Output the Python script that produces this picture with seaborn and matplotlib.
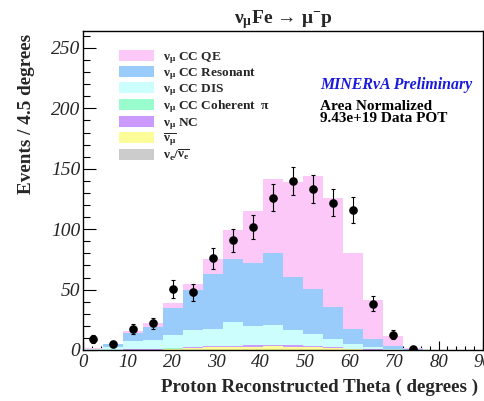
import numpy as np
import pandas as pd
import matplotlib
matplotlib.use("Agg")
import matplotlib.pyplot as plt
import seaborn as sns
from matplotlib.ticker import MultipleLocator

# Binning: 20 bins of 4.5 degrees between 0 and 90
bin_width = 4.5
bin_edges = [round(i * bin_width, 2) for i in range(21)]
bin_centers = [e + bin_width / 2 for e in bin_edges[:-1]]

# Simulated components (area normalized), one value per bin
qe = [0.3, 0.3, 1.4, 3.6, 4.0, 5.2, 12.0, 24.3, 43.0, 61.5,
      78.9, 93.3, 89.8, 62.6, 32.0, 8.6, 1.2, 0.3, 0.2, 0.1]
resonant = [0.6, 2.5, 6.6, 10.5, 22.3, 32.8, 45.5, 52.0, 52.0, 59.3,
            44.1, 37.2, 26.3, 12.4, 6.3, 2.0, 0.4, 0.1, 0.0, 0.0]
dis = [0.4, 1.8, 6.8, 7.6, 11.3, 14.1, 14.3, 19.3, 16.1, 16.3,
       12.4, 10.3, 7.0, 4.0, 2.2, 0.8, 0.2, 0.0, 0.0, 0.0]
coherent = [0.1, 0.2, 0.3, 0.2, 0.2, 0.2, 0.1, 0.1, 0.1, 0.1,
            0.1, 0.0, 0.0, 0.0, 0.0, 0.0, 0.0, 0.0, 0.0, 0.0]
nc = [0.1, 0.2, 0.3, 0.3, 0.5, 0.6, 0.8, 1.0, 1.0, 1.3,
      1.0, 0.8, 0.5, 0.3, 0.2, 0.1, 0.0, 0.0, 0.0, 0.0]
numubar = [0.0, 0.0, 0.2, 0.3, 0.5, 1.5, 2.0, 2.3, 2.5, 2.7,
           2.5, 2.2, 1.8, 0.6, 0.2, 0.1, 0.0, 0.0, 0.0, 0.0]
nue = [0.0, 0.0, 0.1, 0.1, 0.2, 0.2, 0.3, 0.3, 0.3, 0.3,
       0.3, 0.2, 0.2, 0.1, 0.1, 0.0, 0.0, 0.0, 0.0, 0.0]

# Data points with statistical errors (first 17 bins)
data_events = [9.1, 5.0, 17.6, 22.0, 50.5, 47.7, 75.9, 91.0, 102.0, 126.0,
               140.0, 133.0, 122.0, 116.0, 38.3, 12.7, 0.6]
data_errors = [3.0, 2.2, 4.2, 4.7, 7.1, 6.9, 8.7, 9.5, 10.1, 11.2,
               11.8, 11.5, 11.0, 10.8, 6.2, 3.6, 0.7]

component_labels = [
    r"$\nu_{\mu}$ CC QE",
    r"$\nu_{\mu}$ CC Resonant",
    r"$\nu_{\mu}$ CC DIS",
    r"$\nu_{\mu}$ CC Coherent  $\pi$",
    r"$\nu_{\mu}$ NC",
    r"$\overline{\nu_{\mu}}$",
    r"$\nu_{e}/\overline{\nu_{e}}$",
]
component_values = [qe, resonant, dis, coherent, nc, numubar, nue]
component_colors = ["#fbc8f8", "#99cbfb", "#ccfefe", "#99fccc",
                    "#cc99fc", "#fcfc99", "#cccccc"]

x_ticks = [0, 10, 20, 30, 40, 50, 60, 70, 80, 90]
y_ticks = [0, 50, 100, 150, 200, 250]

sns.set_theme(style="ticks")
plt.rcParams["font.family"] = ["Liberation Serif", "DejaVu Serif"]
plt.rcParams["mathtext.fontset"] = "custom"
plt.rcParams["mathtext.rm"] = "Liberation Serif"
plt.rcParams["mathtext.it"] = "Liberation Serif:italic"
plt.rcParams["mathtext.bf"] = "Liberation Serif:bold"
plt.rcParams["mathtext.default"] = "regular"

frames = []
for label, values in zip(component_labels, component_values):
    frames.append(pd.DataFrame({"theta": bin_centers,
                                "events": values,
                                "component": label}))
mc = pd.concat(frames, ignore_index=True)

fig = plt.figure(figsize=(4.84, 4.01), dpi=100)
ax = fig.add_axes([83 / 484, 51 / 401, 400 / 484, 319 / 401])

sns.histplot(data=mc, x="theta", weights="events", hue="component",
             hue_order=component_labels,
             palette=dict(zip(component_labels, component_colors)),
             bins=bin_edges, multiple="stack", element="bars",
             linewidth=0, edgecolor="none", alpha=1.0, shrink=1.0,
             ax=ax)

ax.errorbar(bin_centers[:len(data_events)], data_events, yerr=data_errors,
            fmt="o", color="black", ms=5.2, elinewidth=0.8,
            capsize=1.3, capthick=0.8, zorder=5)

ax.set_xlim(0, 90)
ax.set_ylim(0, 264)
ax.set_xticks(x_ticks)
ax.set_xticklabels([str(t) for t in x_ticks], fontstyle="italic", fontsize=13.5)
ax.set_yticks(y_ticks)
ax.set_yticklabels([str(t) for t in y_ticks], fontstyle="italic", fontsize=14)
ax.xaxis.set_minor_locator(MultipleLocator(2))
ax.yaxis.set_minor_locator(MultipleLocator(10))
ax.tick_params(axis="x", which="major", direction="in", length=6.5,
               width=0.8, pad=3, color="black")
ax.tick_params(axis="x", which="minor", direction="in", length=3,
               width=0.8, color="black")
ax.tick_params(axis="y", which="major", direction="in", length=9,
               width=0.8, pad=2, color="black")
ax.tick_params(axis="y", which="minor", direction="in", length=5,
               width=0.8, color="black")
for side in ["left", "bottom", "top", "right"]:
    ax.spines[side].set_visible(True)
    ax.spines[side].set_color("black")
    ax.spines[side].set_linewidth(1.0)

ax.set_xlabel("")
ax.set_ylabel("")
fig.text(478 / 484, 1 - 392 / 401, "Proton Reconstructed Theta ( degrees )",
         ha="right", va="baseline", fontsize=13.7, fontweight="bold")
fig.text(27 / 484, 1 - 34 / 401, "Events / 4.5 degrees", rotation=90,
         ha="center", va="top", fontsize=13.8, fontweight="bold")
fig.text(283 / 484, 1 - 20 / 401, r"$\nu_{\mu}$Fe$\,\rightarrow\,\mu^{-}$p",
         ha="center", va="center", fontsize=14, fontweight="bold")

ax.text((320 - 83) / 400, (350 - 85) / 319,
        "MINERνA Preliminary", transform=ax.transAxes, ha="left",
        va="center", fontsize=11.4, fontweight="bold", fontstyle="italic",
        color="#1a1adc")
ax.text((320 - 83) / 400, (350 - 106) / 319, "Area Normalized",
        transform=ax.transAxes, ha="left", va="center", fontsize=11,
        fontweight="bold", color="black")
ax.text((320 - 83) / 400, (350 - 119) / 319, "9.43e+19 Data POT",
        transform=ax.transAxes, ha="left", va="center", fontsize=11,
        fontweight="bold", color="black")

sns.move_legend(ax, "upper left", bbox_to_anchor=((119 - 83) / 400, (350 - 50) / 319),
                frameon=False, title=None,
                prop={"weight": "bold", "size": 9.6},
                handlelength=2.6, handleheight=0.9, handletextpad=0.7,
                labelspacing=0.02, borderpad=0, borderaxespad=0)

fig.savefig("out.png", dpi=100)
